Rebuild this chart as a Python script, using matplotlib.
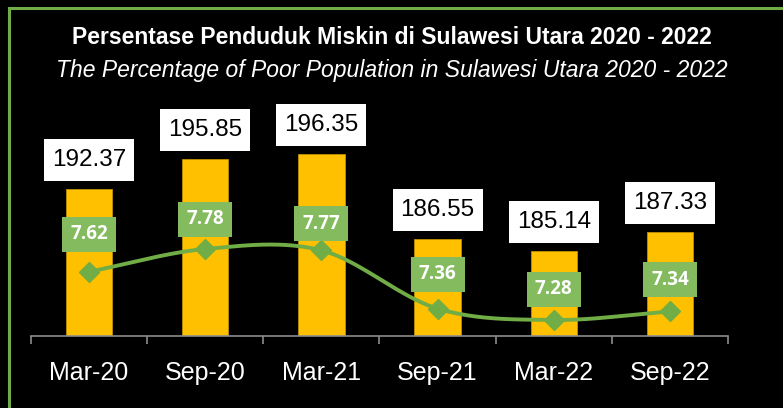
import numpy as np
import matplotlib
matplotlib.use("Agg")
import matplotlib.pyplot as plt
import matplotlib.transforms as mtransforms
from matplotlib import font_manager
from matplotlib.patches import Rectangle

periods = ["Mar-20", "Sep-20", "Mar-21", "Sep-21", "Mar-22", "Sep-22"]
poor_pop = [192.37, 195.85, 196.35, 186.55, 185.14, 187.33]   # ribu jiwa
poor_pct = [7.62, 7.78, 7.77, 7.36, 7.28, 7.34]               # persen

title = "Persentase Penduduk Miskin di Sulawesi Utara 2020 - 2022"
subtitle = "The Percentage of Poor Population in Sulawesi Utara 2020 - 2022"

# gap (px) between green label box and its marker, as placed in the original
pct_label_gap = [20, 12, 9, 17, 13, 14]

names = {f.name for f in font_manager.fontManager.ttflist}
narrow = "Liberation Sans Narrow" if "Liberation Sans Narrow" in names else "Liberation Sans"

BAR = "#FFC000"
GREEN = "#70AD47"
LBLGREEN = "#84BB5F"

fig = plt.figure(figsize=(7.83, 4.08), dpi=100, facecolor="black")
ax = fig.add_axes([31 / 783, 72 / 408, 697 / 783, 226 / 408])
ax.set_facecolor("none")
ax2 = ax.twinx()
ax.set_zorder(1)
ax2.set_zorder(2)

x = np.arange(len(periods))
ax.bar(x, poor_pop, width=0.4, color=BAR, edgecolor="#C09000", linewidth=0.6)
ax.set_xlim(-0.5, len(periods) - 0.5)
ax.set_ylim(175.3, 201.5)
ax2.set_ylim(7.167, 8.759)

for a in (ax, ax2):
    for s in a.spines.values():
        s.set_visible(False)
    a.set_yticks([])
ax.spines["bottom"].set_visible(True)
ax.spines["bottom"].set_color("#8C8C8C")
ax.spines["bottom"].set_linewidth(1.2)

ax.set_xticks(x)
ax.set_xticklabels(periods, fontfamily=narrow, fontsize=18, color="white")
ax.tick_params(axis="x", which="major", length=0, pad=18)
ax.set_xticks(np.arange(-0.5, len(periods)), minor=True)
ax.tick_params(axis="x", which="minor", length=6, width=1.2, color="#8C8C8C")

# smoothed line (cubic Hermite / Catmull-Rom through the points, like Excel)
y = np.array(poor_pct)
tang = np.gradient(y)
xs, ys = [], []
for i in range(len(y) - 1):
    t = np.linspace(0, 1, 40)
    h00 = 2 * t**3 - 3 * t**2 + 1
    h10 = t**3 - 2 * t**2 + t
    h01 = -2 * t**3 + 3 * t**2
    h11 = t**3 - t**2
    xs.append(i + t)
    ys.append(h00 * y[i] + h10 * tang[i] + h01 * y[i + 1] + h11 * tang[i + 1])
ax2.plot(np.concatenate(xs), np.concatenate(ys), color=GREEN, lw=2.8, solid_capstyle="round")
ax2.plot(x, poor_pct, linestyle="none", marker="D", ms=10, color=GREEN)

fig.canvas.draw()

# white value boxes above bars
for i, v in enumerate(poor_pop):
    px, py = ax.transData.transform((i, v))
    tr = mtransforms.Affine2D().translate(px, py)
    ax.add_patch(Rectangle((-45, 8), 90, 42, transform=tr, facecolor="white",
                           edgecolor="none", clip_on=False, zorder=5))
    ax.annotate(f"{v:.2f}", (i, v), xytext=(0, 29), textcoords="offset pixels",
                ha="center", va="center", fontfamily=narrow, fontsize=17.5,
                color="black", zorder=6, annotation_clip=False)

# green percentage boxes above markers
for i, v in enumerate(poor_pct):
    px, py = ax2.transData.transform((i, v))
    tr = mtransforms.Affine2D().translate(px, py)
    g = pct_label_gap[i]
    ax2.add_patch(Rectangle((-27, g), 54, 35, transform=tr, facecolor=LBLGREEN,
                            edgecolor="none", clip_on=False, zorder=5))
    ax2.annotate(f"{v:.2f}", (i, v), xytext=(0, g + 17.5), textcoords="offset pixels",
                 ha="center", va="center", fontfamily="Open Sans", fontweight="bold",
                 fontsize=13.5, color="white", zorder=6, annotation_clip=False)

fig.text(0.5, 1 - 38 / 408, title, ha="center", va="center", color="white",
         fontfamily=narrow, fontweight="bold", fontsize=16.5)
fig.text(0.5, 1 - 70 / 408, subtitle, ha="center", va="center", color="white",
         fontfamily=narrow, fontstyle="italic", fontsize=16.5)

# green chart frame (runs off the right and bottom edge)
fig.patches.append(Rectangle((8.5 / 783, -0.2), 1.2, 1.2 - 7.5 / 408, transform=fig.transFigure,
                             fill=False, edgecolor=GREEN, linewidth=2.2))

fig.savefig("out.png", dpi=100, facecolor="black")
